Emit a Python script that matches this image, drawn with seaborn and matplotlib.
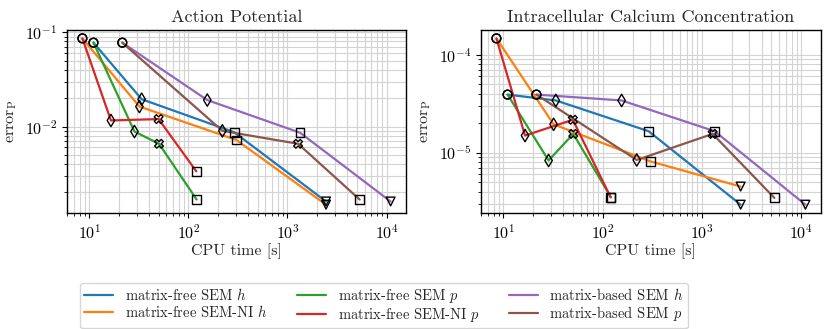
import pandas as pd
import matplotlib
matplotlib.use("Agg")
import matplotlib.pyplot as plt
import seaborn as sns

# series labels (legend order, column-major in a 3-column legend)
methods = [
    "matrix-free SEM $h$",
    "matrix-free SEM-NI $h$",
    "matrix-free SEM $p$",
    "matrix-free SEM-NI $p$",
    "matrix-based SEM $h$",
    "matrix-based SEM $p$",
]
colors = ["#1f77b4", "#ff7f0e", "#2ca02c", "#d62728", "#9467bd", "#8c564b"]

# CPU time [s] per refinement level
cpu_mf_sem_h = [11.0, 33.7, 290, 2450]
cpu_mf_ni_h = [8.5, 32.0, 305, 2450]
cpu_mf_sem_p = [11.0, 28.5, 50.5, 121]
cpu_mf_ni_p = [8.5, 16.5, 50.0, 120]
cpu_mb_sem_h = [21.5, 155, 1340, 11000]
cpu_mb_sem_p = [21.5, 220, 1280, 5350]

# error for the action potential
ap_mf_sem_h = [0.0777, 0.0195, 0.0087, 0.0016]
ap_mf_ni_h = [0.0863, 0.0163, 0.0072, 0.00148]
ap_mf_sem_p = [0.0777, 0.00885, 0.00656, 0.00168]
ap_mf_ni_p = [0.0863, 0.0116, 0.0120, 0.00335]
ap_mb_sem_h = [0.0777, 0.0191, 0.0086, 0.0016]
ap_mb_sem_p = [0.0777, 0.0090, 0.00656, 0.00168]

# error for the intracellular calcium concentration
ca_mf_sem_h = [3.9e-5, 3.4e-5, 1.65e-5, 2.94e-6]
ca_mf_ni_h = [1.46e-4, 1.94e-5, 8.1e-6, 4.5e-6]
ca_mf_sem_p = [3.9e-5, 8.3e-6, 1.55e-5, 3.5e-6]
ca_mf_ni_p = [1.46e-4, 1.49e-5, 2.16e-5, 3.5e-6]
ca_mb_sem_h = [3.9e-5, 3.4e-5, 1.65e-5, 2.94e-6]
ca_mb_sem_p = [3.9e-5, 8.4e-6, 1.55e-5, 3.45e-6]

# marker per level: h-refinement vs p-refinement
markers_h = ["o", "d", "s", "v"]
markers_p = ["o", "d", "X", "s"]

cpu = [cpu_mf_sem_h, cpu_mf_ni_h, cpu_mf_sem_p, cpu_mf_ni_p, cpu_mb_sem_h, cpu_mb_sem_p]
err_ap = [ap_mf_sem_h, ap_mf_ni_h, ap_mf_sem_p, ap_mf_ni_p, ap_mb_sem_h, ap_mb_sem_p]
err_ca = [ca_mf_sem_h, ca_mf_ni_h, ca_mf_sem_p, ca_mf_ni_p, ca_mb_sem_h, ca_mb_sem_p]
marks = [markers_h, markers_h, markers_p, markers_p, markers_h, markers_p]


def build_frame(errors):
    rows = []
    for name, t, e, m in zip(methods, cpu, errors, marks):
        for i in range(len(t)):
            rows.append({"method": name, "cpu": t[i], "err": e[i], "marker": m[i], "level": i})
    return pd.DataFrame(rows)


sns.set_style("ticks")
plt.rcParams["font.family"] = ["cmr10", "DejaVu Serif"]
plt.rcParams["mathtext.fontset"] = "cm"
plt.rcParams["axes.formatter.use_mathtext"] = True
plt.rcParams["axes.edgecolor"] = "black"
plt.rcParams["xtick.color"] = "black"
plt.rcParams["ytick.color"] = "black"
plt.rcParams["axes.linewidth"] = 1.0

fig = plt.figure(figsize=(8.31, 3.29), dpi=100)
ax1 = fig.add_axes([0.0806, 0.3526, 0.408, 0.556])
ax2 = fig.add_axes([0.5788, 0.3526, 0.409, 0.556])

panels = [(ax1, err_ap, "Action Potential"),
          (ax2, err_ca, "Intracellular Calcium Concentration")]

for ax, errors, title in panels:
    df = build_frame(errors)
    sns.lineplot(data=df, x="cpu", y="err", hue="method", hue_order=methods,
                 palette=colors, sort=False, estimator=None, linewidth=1.6,
                 legend=(ax is ax1), ax=ax)
    sns.scatterplot(data=df, x="cpu", y="err", style="marker",
                    markers={"o": "o", "d": "d", "s": "s", "v": "v", "X": "X"},
                    facecolor="none", edgecolor="black", linewidth=1.0, s=40,
                    legend=False, ax=ax, zorder=3)
    ax.set_xscale("log")
    ax.set_yscale("log")
    ax.grid(True, which="both", color="#d3d3d3", linewidth=0.8)
    ax.set_axisbelow(True)
    ax.tick_params(which="major", direction="out", length=3.5, labelsize=11.5)
    ax.tick_params(which="minor", direction="out", length=2)
    ax.set_xlabel("CPU time [s]", fontsize=11.5, labelpad=1.5)
    ax.set_ylabel(r"error$_\mathrm{P}$", fontsize=11.5)
    ax.set_title(title, fontsize=13)

handles, labels = ax1.get_legend_handles_labels()
ax1.get_legend().remove()
fig.legend(handles, labels, loc="upper left", bbox_to_anchor=(0.096, 0.14),
           borderaxespad=0, ncol=3, fontsize=10.5, frameon=True,
           handlelength=2.0, handletextpad=0.8, columnspacing=2.0,
           borderpad=0.3, labelspacing=0.05, edgecolor="#cccccc")

fig.savefig("out.png", dpi=100)
